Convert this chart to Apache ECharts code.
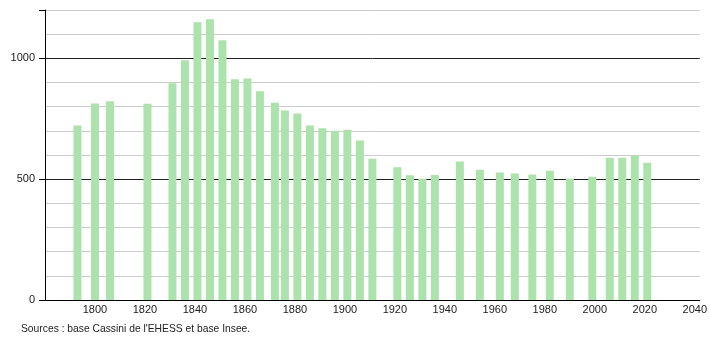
<!DOCTYPE html>
<html><head><meta charset="utf-8">
<script src="https://cdn.jsdelivr.net/npm/echarts@6/dist/echarts.min.js"></script>
<style>html,body{margin:0;padding:0;background:#fff}#c{width:710px;height:340px}</style>
</head><body><div id="c"></div>
<script>
const years = [1793,1800,1806,1821,1831,1836,1841,1846,1851,1856,1861,1866,1872,1876,1881,1886,1891,1896,1901,1906,1911,1921,1926,1931,1936,1946,1954,1962,1968,1975,1982,1990,1999,2006,2011,2016,2021];
const population = [722,813,822,812,897,992,1149,1162,1075,913,917,864,816,784,772,722,711,700,705,660,585,549,516,502,517,573,539,528,523,519,535,502,510,589,589,598,568];
const yLabels = [0,500,1000];
const xLabels = [1800,1820,1840,1860,1880,1900,1920,1940,1960,1980,2000,2020,2040];
const sourceText = "Sources : base Cassini de l'EHESS et base Insee.";

const gridColors = [];
for (let v = 0; v <= 1200; v += 100) gridColors.push(v % 500 === 0 ? '#222' : '#cccccc');

const chart = echarts.init(document.getElementById('c'), null, {renderer:'canvas'});
chart.setOption({
  animation:false,
  textStyle:{fontFamily:'Liberation Sans, Arial, sans-serif'},
  grid:{left:45,right:9,top:10,bottom:40,containLabel:false},
  xAxis:{type:'value',min:1780,max:2042,interval:20,
    axisLine:{show:true,onZero:false,lineStyle:{color:'#000',width:1}},
    axisTick:{show:false},splitLine:{show:false},
    axisLabel:{color:'#222',fontSize:11,margin:4,showMinLabel:true,showMaxLabel:true,
      formatter:function(v){return xLabels.indexOf(v)>=0 ? String(v) : '';}}},
  yAxis:[
    {type:'value',min:0,max:1200,interval:100,position:'left',
     axisLine:{show:false},axisTick:{show:false},axisLabel:{show:false},
     splitLine:{show:true,lineStyle:{color:gridColors,width:1}}},
    {type:'value',min:0,max:1200,interval:500,position:'left',
     axisLine:{show:true,lineStyle:{color:'#000',width:1}},
     axisTick:{show:true,length:6,lineStyle:{color:'#000'}},
     splitLine:{show:false},
     axisLabel:{color:'#222',fontSize:11,margin:10,
       formatter:function(v){return yLabels.indexOf(v)>=0 ? String(v) : '';}}}
  ],
  series:[{type:'bar',yAxisIndex:1,barWidth:8,
    itemStyle:{color:'rgb(172,226,172)'},
    data:years.map((y,i)=>[y,population[i]])}],
  graphic:[{type:'text',left:21,top:324,style:{text:sourceText,fill:'#222',font:'10.3px "Liberation Sans", Arial, sans-serif'}}]
});
</script></body></html>
